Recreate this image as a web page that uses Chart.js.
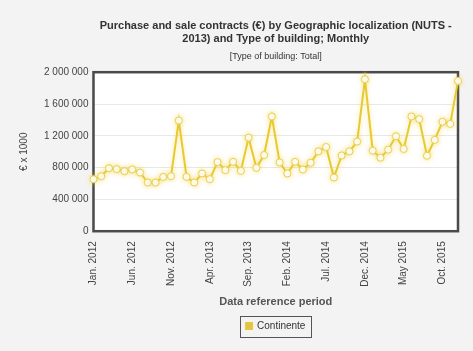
<!DOCTYPE html>
<html>
<head>
<meta charset="utf-8">
<script src="https://cdn.jsdelivr.net/npm/chart.js@4.4.0/dist/chart.umd.min.js"></script>
<style>
    html, body { margin: 0; padding: 0; background: #f4f3f4; }
    #wrap { width: 473px; height: 351px; }
</style>
</head>
<body>
<div id="wrap"><canvas id="chart" width="473" height="351"></canvas></div>
<script>
// months of the series, Jan. 2012 .. Dec. 2015
const monthNames = ["Jan.", "Feb.", "Mar.", "Apr.", "May", "Jun.", "Jul.", "Aug.", "Sep.", "Oct.", "Nov.", "Dec."];
const years = [2012, 2013, 2014, 2015];
const labels = [];
years.forEach(y => monthNames.forEach(m => labels.push(m + " " + y)));

// Continente, € x 1000
const continente = [
    654000, 692000, 793000, 781000, 755000, 776000, 738000, 612000, 612000, 683000, 692000, 1392000,
    683000, 612000, 726000, 654000, 869000, 768000, 873000, 759000, 1177000, 797000, 958000, 1443000,
    865000, 726000, 873000, 776000, 861000, 1004000, 1059000, 675000, 953000, 1004000, 1127000, 1911000,
    1013000, 924000, 1025000, 1194000, 1034000, 1443000, 1409000, 949000, 1148000, 1376000, 1350000, 1890000
];

const yTicks = [0, 400000, 800000, 1200000, 1600000, 2000000];

const fontFam = "'Liberation Sans', Arial, sans-serif";
const gold = "#e8c932";

function fmt(v) {
    return String(v).replace(/\B(?=(\d{3})+(?!\d))/g, " ");
}

const frame = {
    id: "frame",
    beforeDraw(chart) {
        const a = chart.chartArea, c = chart.ctx;
        c.save();
        c.fillStyle = "#ffffff";
        c.fillRect(a.left, a.top, a.right - a.left, a.bottom - a.top);
        c.restore();
    },
    beforeDatasetsDraw(chart) {
        const a = chart.chartArea, c = chart.ctx;
        c.save();
        c.strokeStyle = "#4a4a4a";
        c.lineWidth = 2.5;
        c.strokeRect(a.left, a.top, a.right - a.left, a.bottom - a.top);
        c.restore();
    },
    beforeDatasetDraw(chart) {
        chart.ctx.save();
        chart.ctx.shadowColor = "rgba(245, 215, 60, 0.55)";
        chart.ctx.shadowBlur = 5;
    },
    afterDatasetDraw(chart) {
        chart.ctx.restore();
    },
    afterDraw(chart) {
        const lg = chart.legend;
        if (!lg || !lg.legendHitBoxes.length) return;
        const h = lg.legendHitBoxes[0];
        const c = chart.ctx;
        c.save();
        c.strokeStyle = "#555";
        c.lineWidth = 1;
        c.strokeRect(Math.round(h.left - 6) + 0.5, Math.round(h.top - 5) + 0.5, Math.round(h.width + 12), 21);
        c.restore();
    }
};

new Chart(document.getElementById("chart"), {
    type: "line",
    data: {
        labels: labels,
        datasets: [{
            label: "Continente",
            data: continente,
            borderColor: gold,
            backgroundColor: "#d9c35a",
            borderWidth: 2,
            tension: 0,
            pointRadius: 3.5,
            pointBackgroundColor: "#ffffff",
            pointBorderColor: "#e6cf5a",
            pointBorderWidth: 1,
            clip: false
        }]
    },
    options: {
        responsive: false,
        animation: false,
        layout: { padding: { top: 19, right: 15, left: 18, bottom: 10 } },
        plugins: {
            title: {
                display: true,
                fullSize: false,
                text: ["Purchase and sale contracts (€) by Geographic localization (NUTS -", "2013) and Type of building; Monthly"],
                color: "#333",
                font: { family: fontFam, size: 11, weight: "bold", lineHeight: 1.2 },
                padding: { top: 0, bottom: 6 }
            },
            subtitle: {
                display: true,
                fullSize: false,
                text: "[Type of building: Total]",
                color: "#333",
                font: { family: fontFam, size: 9 },
                padding: { top: 0, bottom: 10 }
            },
            legend: {
                position: "bottom",
                fullSize: false,
                labels: {
                    color: "#333",
                    font: { family: fontFam, size: 10 },
                    boxWidth: 6,
                    boxHeight: 6,
                    padding: 10
                }
            },
            tooltip: { enabled: false }
        },
        scales: {
            x: {
                grid: { display: false },
                border: { display: false },
                ticks: {
                    autoSkip: false,
                    maxRotation: 90,
                    minRotation: 90,
                    color: "#444",
                    font: { family: fontFam, size: 10 },
                    padding: 2,
                    callback: function (v, i) { return i % 5 === 0 ? labels[i] : null; }
                },
                title: {
                    display: true,
                    text: "Data reference period",
                    color: "#555",
                    font: { family: fontFam, size: 11, weight: "bold" },
                    padding: { top: 7, bottom: 2 }
                }
            },
            y: {
                min: 0,
                max: 2000000,
                afterBuildTicks: s => { s.ticks = yTicks.map(v => ({ value: v })); },
                grid: { color: "#e8e8e8", drawTicks: false },
                border: { display: false },
                ticks: {
                    color: "#444",
                    font: { family: fontFam, size: 10 },
                    padding: 5,
                    callback: v => fmt(v)
                },
                title: {
                    display: true,
                    text: "€ x 1000",
                    color: "#444",
                    font: { family: fontFam, size: 10 },
                    padding: { top: 0, bottom: 9 }
                }
            }
        }
    },
    plugins: [frame]
});
</script>
</body>
</html>
